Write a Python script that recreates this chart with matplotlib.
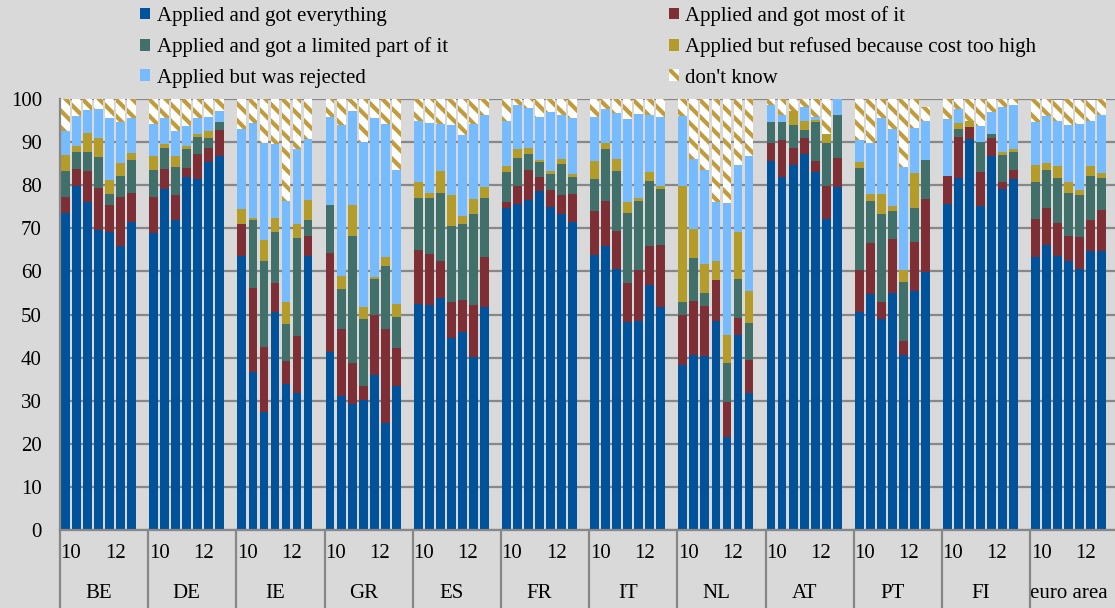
import numpy as np
import matplotlib
matplotlib.use('Agg')
import matplotlib.pyplot as plt
import matplotlib.transforms as mtransforms
from matplotlib.patches import Patch

COUNTRIES = ['BE', 'DE', 'IE', 'GR', 'ES', 'FR', 'IT', 'NL', 'AT', 'PT', 'FI', 'euro area']
YEAR_LABELS = ['10', '12']

# one row per country, 7 survey rounds each (% of firms)
got_everything = [
    [73.5, 79.9, 76.1, 69.5, 69.1, 66.0, 71.4],
    [68.8, 79.1, 72.0, 81.8, 81.5, 85.3, 86.8],
    [63.6, 36.6, 27.3, 50.6, 33.9, 31.8, 63.6],
    [41.3, 31.2, 29.2, 30.2, 36.0, 24.9, 33.3],
    [52.4, 52.2, 53.8, 44.5, 45.9, 40.1, 51.7],
    [74.6, 75.6, 76.5, 78.7, 75.0, 73.4, 71.4],
    [63.8, 65.8, 60.6, 48.3, 48.5, 56.9, 51.7],
    [38.2, 40.5, 40.3, 48.5, 21.5, 45.3, 31.9],
    [85.6, 81.8, 84.6, 87.3, 83.1, 72.1, 79.5],
    [50.5, 54.8, 48.9, 54.9, 40.5, 55.4, 59.8],
    [75.6, 81.7, 90.8, 75.2, 86.8, 79.1, 81.4],
    [63.3, 66.1, 63.5, 62.3, 60.5, 64.7, 64.7],
]
got_most = [
    [3.8, 3.8, 7.3, 9.9, 6.2, 11.3, 6.9],
    [8.4, 4.7, 5.7, 2.2, 5.7, 3.4, 5.9],
    [7.5, 19.6, 15.2, 6.8, 5.3, 13.2, 4.6],
    [23.0, 15.5, 9.6, 3.3, 13.8, 21.8, 8.9],
    [12.6, 11.8, 8.7, 8.3, 7.5, 12.0, 11.7],
    [1.4, 4.3, 7.1, 3.1, 4.0, 4.3, 6.6],
    [10.3, 10.6, 8.7, 8.9, 11.8, 8.9, 14.5],
    [11.8, 12.7, 11.6, 9.6, 8.3, 4.0, 7.5],
    [4.1, 8.8, 4.0, 3.7, 2.4, 7.6, 6.7],
    [9.8, 11.9, 4.1, 12.7, 3.3, 11.5, 16.9],
    [6.5, 9.5, 2.7, 7.9, 4.2, 1.6, 2.1],
    [8.8, 8.5, 7.7, 6.0, 7.4, 7.3, 9.5],
]
got_limited = [
    [6.0, 4.0, 4.3, 7.2, 2.7, 4.9, 7.5],
    [6.3, 4.9, 6.6, 4.5, 4.0, 2.3, 2.0],
    [0.0, 15.8, 19.9, 11.8, 8.7, 22.8, 3.7],
    [11.1, 9.2, 29.5, 15.5, 8.5, 14.6, 7.2],
    [12.1, 13.0, 15.8, 17.8, 17.5, 21.3, 13.7],
    [7.0, 6.3, 3.7, 3.6, 3.7, 7.2, 4.0],
    [7.4, 12.1, 13.9, 16.4, 16.1, 15.2, 13.0],
    [2.8, 10.0, 3.0, 0.0, 9.0, 8.9, 8.7],
    [5.0, 4.1, 5.4, 1.9, 9.1, 10.0, 10.2],
    [23.6, 9.7, 20.3, 6.3, 13.7, 7.7, 9.1],
    [0.0, 1.8, 0.0, 7.0, 0.9, 6.3, 4.3],
    [8.6, 8.9, 10.5, 9.9, 9.8, 10.1, 7.4],
]
refused_cost = [
    [3.8, 1.5, 4.5, 4.3, 3.1, 2.9, 1.7],
    [3.3, 0.8, 2.5, 0.7, 0.7, 1.6, 0.0],
    [3.4, 0.5, 4.8, 3.3, 5.1, 3.3, 4.7],
    [0.0, 3.0, 7.1, 2.7, 0.5, 2.1, 3.1],
    [3.7, 1.1, 5.0, 7.1, 2.0, 3.4, 2.5],
    [1.5, 2.2, 1.4, 0.5, 0.6, 1.2, 0.7],
    [4.0, 1.4, 2.9, 2.4, 0.7, 2.0, 0.7],
    [26.9, 6.6, 6.8, 4.3, 6.4, 10.9, 7.4],
    [0.0, 0.0, 3.1, 2.0, 0.6, 2.2, 0.0],
    [1.5, 1.6, 4.7, 1.3, 2.8, 8.3, 0.0],
    [0.0, 1.4, 1.5, 0.0, 0.0, 0.7, 0.7],
    [4.0, 1.6, 2.8, 2.5, 1.2, 2.4, 1.3],
]
rejected = [
    [5.4, 6.8, 5.3, 6.8, 14.6, 9.5, 8.2],
    [7.3, 6.1, 5.8, 4.6, 3.7, 3.3, 2.5],
    [18.5, 21.9, 22.7, 17.1, 23.3, 17.3, 14.1],
    [20.5, 35.1, 21.9, 38.4, 36.8, 30.9, 31.0],
    [14.1, 16.3, 10.8, 16.2, 18.7, 17.5, 16.7],
    [10.4, 10.3, 9.3, 9.9, 13.6, 10.2, 12.9],
    [10.4, 7.7, 10.6, 19.4, 19.5, 13.4, 16.0],
    [16.4, 16.3, 21.9, 13.8, 30.7, 15.7, 31.3],
    [4.0, 1.7, 0.0, 3.3, 0.6, 0.0, 3.6],
    [5.2, 11.9, 17.6, 17.8, 23.9, 10.3, 9.1],
    [13.3, 3.3, 0.0, 3.7, 5.1, 10.5, 10.2],
    [10.0, 10.9, 10.4, 13.3, 15.2, 10.4, 13.5],
]
dont_know = [
    [7.5, 4.0, 2.5, 2.3, 4.3, 5.4, 4.3],
    [5.9, 4.4, 7.4, 6.2, 4.4, 4.1, 2.8],
    [7.0, 5.6, 10.1, 10.4, 23.7, 11.6, 9.3],
    [4.1, 6.0, 2.7, 9.9, 4.4, 5.7, 16.5],
    [5.1, 5.6, 5.9, 6.1, 8.4, 5.7, 3.7],
    [5.1, 1.3, 2.0, 4.2, 3.1, 3.7, 4.4],
    [4.1, 2.4, 3.3, 4.6, 3.4, 3.6, 4.1],
    [3.9, 13.9, 16.4, 23.8, 24.1, 15.2, 13.2],
    [1.3, 3.6, 2.9, 1.8, 4.2, 8.1, 0.0],
    [10.9, 10.1, 4.4, 7.0, 15.8, 8.1, 3.2],
    [4.6, 2.3, 5.0, 6.2, 3.0, 1.8, 1.7],
    [5.3, 4.0, 4.9, 6.0, 5.7, 4.9, 4.4],
]

BG = '#d9d9d9'
GRID = '#878787'
HATCH_COL = '#c29b3a'

plt.rcParams['font.family'] = ['Liberation Serif', 'DejaVu Serif']
plt.rcParams['font.size'] = 15
plt.rcParams['hatch.linewidth'] = 3.0

series = [
    ('Applied and got everything', got_everything, '#00529b', None),
    ('Applied and got most of it', got_most, '#7e2e35', None),
    ('Applied and got a limited part of it', got_limited, '#41706a', None),
    ('Applied but refused because cost too high', refused_cost, '#b39c2a', None),
    ('Applied but was rejected', rejected, '#75bbfd', None),
    ("don't know", dont_know, 'white', '\\\\'),
]

n_groups = len(COUNTRIES)
n_rounds = len(got_everything[0])
slot = n_rounds + 1   # one empty slot between countries
x = (np.arange(n_groups)[:, None] * slot + np.arange(n_rounds)[None, :]).ravel()

W, H = 1115, 608
fig = plt.figure(figsize=(W / 100, H / 100), dpi=100, facecolor=BG)
ax = fig.add_axes([60 / W, 1 - 530 / H, 1055 / W, 431 / H])
ax.set_facecolor(BG)

bottom = np.zeros(len(x))
handles = {}
for label, vals, col, hatch in series:
    v = np.array(vals).ravel()
    if hatch:
        ax.bar(x, v, 0.8, bottom=bottom, color=col, edgecolor=HATCH_COL,
               hatch=hatch, linewidth=0)
        handles[label] = Patch(facecolor=col, edgecolor=HATCH_COL, hatch=hatch, linewidth=0)
    else:
        ax.bar(x, v, 0.8, bottom=bottom, color=col, linewidth=0)
        handles[label] = Patch(facecolor=col, linewidth=0)
    bottom += v

ax.set_ylim(0, 100)
ax.set_xlim(-0.5, n_groups * slot - 0.8)
ax.set_yticks(range(0, 101, 10))
ax.yaxis.grid(True, color=GRID, lw=1.6)
ax.set_axisbelow(True)
for s in ['top', 'right']:
    ax.spines[s].set_visible(False)
for s in ['left', 'bottom']:
    ax.spines[s].set_color(GRID)
    ax.spines[s].set_linewidth(1.6)

# year labels (every second year) and country names below
year_pos = [g * slot + k for g in range(n_groups) for k in (0.5, 4.5)]
ax.set_xticks(year_pos, YEAR_LABELS * n_groups)
ax.set_xticks([g * slot + (n_rounds - 1) / 2 for g in range(n_groups)],
              COUNTRIES, minor=True)
ax.tick_params(axis='x', which='major', length=0, pad=10)
ax.tick_params(axis='x', which='minor', length=0, pad=39)
ax.tick_params(axis='y', length=0, pad=13)

trans = mtransforms.blended_transform_factory(ax.transData, ax.transAxes)
for g in range(n_groups):
    ax.plot([g * slot - 0.5] * 2, [0, -80 / 431], transform=trans,
            clip_on=False, color=GRID, lw=1.6)

order = ['Applied and got everything', 'Applied and got a limited part of it',
         'Applied but was rejected', 'Applied and got most of it',
         'Applied but refused because cost too high', "don't know"]
fig.legend([handles[k] for k in order], order, ncol=2, loc='upper left',
           bbox_to_anchor=(140 / W, 1 - 6 / H), frameon=False,
           handlelength=0.5, handleheight=0.5, handletextpad=0.3,
           columnspacing=10.6, labelspacing=0.55, borderpad=0, borderaxespad=0)

fig.savefig('out.png', dpi=100, facecolor=BG)
